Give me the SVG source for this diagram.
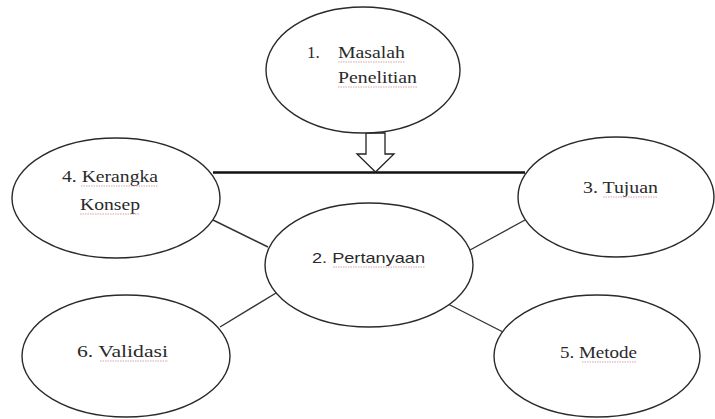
<svg xmlns="http://www.w3.org/2000/svg" width="715" height="419" viewBox="0 0 715 419">
<style>
.node ellipse{fill:#fff;stroke:#2a2a2a;stroke-width:1.4}
.conn line{stroke:#333;stroke-width:1.4}
.conn .bar{stroke:#111;stroke-width:2.6}
.arrow{fill:#fff;stroke:#222;stroke-width:1.3;stroke-linejoin:miter}
text.t{font-family:'Times New Roman','Liberation Serif',serif;font-size:17px;fill:#2a2a2a}
text.s{font-family:'Liberation Sans',Arial,sans-serif;font-size:15px;fill:#2a2a2a}
.ul{stroke:#d8a3a3;stroke-width:1;stroke-dasharray:1.5 1}
</style>
<rect width="715" height="419" fill="#fff"/>
<g id="connectors" class="conn">
<line class="bar" x1="213" y1="172.5" x2="525" y2="172.5"/>
<line x1="213" y1="220" x2="268" y2="247"/>
<line x1="525" y1="220" x2="470" y2="250"/>
<line x1="276" y1="293" x2="220" y2="327"/>
<line x1="448" y1="304" x2="503" y2="332"/>
<polygon class="arrow" points="366,133 366,154 357,154 375.5,172 394,154 385,154 385,133"/>
</g>
<g id="node1" class="node">
<ellipse cx="363" cy="70" rx="97" ry="63"/>
<text class="t" x="307" y="58">1.</text>
<text class="t" x="338" y="58" textLength="67" lengthAdjust="spacingAndGlyphs">Masalah</text>
<text class="t" x="338" y="83" textLength="79" lengthAdjust="spacingAndGlyphs">Penelitian</text>
<line class="ul" x1="338" y1="62" x2="405" y2="62"/>
<line class="ul" x1="338" y1="87" x2="417" y2="87"/>
</g>
<g id="node4" class="node">
<ellipse cx="116" cy="198" rx="104" ry="60"/>
<text class="t" x="62" y="182" textLength="96" lengthAdjust="spacingAndGlyphs">4. Kerangka</text>
<text class="t" x="80" y="210" textLength="60" lengthAdjust="spacingAndGlyphs">Konsep</text>
<line class="ul" x1="81" y1="186" x2="158" y2="186"/>
<line class="ul" x1="80" y1="214" x2="140" y2="214"/>
</g>
<g id="node3" class="node">
<ellipse cx="616" cy="197" rx="98" ry="60"/>
<text class="t" x="583" y="193" textLength="75" lengthAdjust="spacingAndGlyphs">3. Tujuan</text>
<line class="ul" x1="603" y1="197" x2="658" y2="197"/>
</g>
<g id="node2" class="node">
<ellipse cx="369" cy="265" rx="104" ry="62"/>
<text class="s" x="312" y="263" textLength="113" lengthAdjust="spacingAndGlyphs">2. Pertanyaan</text>
<line class="ul" x1="333" y1="267" x2="425" y2="267"/>
</g>
<g id="node6" class="node">
<ellipse cx="126" cy="356" rx="104" ry="61"/>
<text class="t" x="77" y="357" textLength="91" lengthAdjust="spacingAndGlyphs">6. Validasi</text>
<line class="ul" x1="100" y1="361" x2="168" y2="361"/>
</g>
<g id="node5" class="node">
<ellipse cx="597" cy="356" rx="103" ry="61"/>
<text class="t" x="560" y="358" textLength="77" lengthAdjust="spacingAndGlyphs">5. Metode</text>
<line class="ul" x1="582" y1="362" x2="637" y2="362"/>
</g>
</svg>
